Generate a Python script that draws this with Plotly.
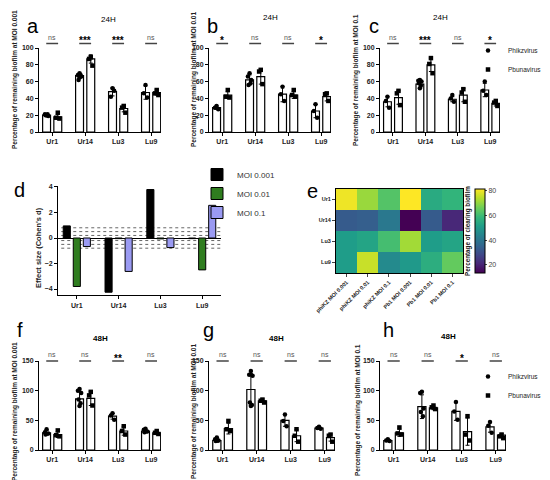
import plotly.graph_objects as go

W, H = 550, 480
FONT = 'Arial, Liberation Sans, sans-serif'

strains = ['Ur1', 'Ur14', 'Lu3', 'Lu9']
viruses = ['Phikzvirus', 'Pbunavirus']

# ---- 24H ----
# MOI 0.001 (a)
a_phi = [20, 67, 48, 47]
a_phi_sd = [1, 3, 5, 8]
a_phi_pts = [[20, 21, 19, 20, 21], [70, 68, 66, 62, 68, 65], [52, 42, 49], [56, 46, 41]]
a_pb = [18, 87, 28, 47]
a_pb_sd = [3, 5, 4, 3]
a_pb_pts = [[23, 17, 16], [89, 87, 79], [31, 29, 23], [50, 46, 44]]
a_sig = ['ns', '***', '***', 'ns']

# MOI 0.01 (b)
b_phi = [29, 62, 45, 25]
b_phi_sd = [2, 6, 9, 8]
b_phi_pts = [[31, 29, 27], [70, 66, 62, 56, 58], [54, 45, 37], [33, 25, 17]]
b_pb = [44, 66, 44, 42]
b_pb_sd = [4, 9, 4, 5]
b_pb_pts = [[50, 42, 41], [74, 72, 57], [50, 44, 42], [46, 45, 37]]
b_sig = ['*', 'ns', 'ns', '*']

# MOI 0.1 (c)
c_phi = [36, 57, 39, 50]
c_phi_sd = [6, 4, 3, 8]
c_phi_pts = [[42, 37, 29], [62, 61, 60, 58, 55, 52], [44, 40, 36], [60, 49, 44]]
c_pb = [41, 80, 44, 34]
c_pb_sd = [8, 8, 8, 3]
c_pb_pts = [[49, 46, 32], [88, 81, 70], [51, 47, 36], [37, 35, 31]]
c_sig = ['ns', '***', 'ns', '*']

# ---- 48H ----
# MOI 0.001 (f)
f_phi = [29, 86, 57, 32]
f_phi_sd = [4, 12, 5, 3]
f_phi_pts = [[35, 30, 28, 26], [103, 100, 96, 85, 79, 74], [62, 58, 51], [36, 34, 31, 30]]
f_pb = [26, 87, 32, 29]
f_pb_sd = [5, 12, 7, 3]
f_pb_pts = [[33, 25, 23], [98, 92, 75], [40, 32, 26], [32, 29, 27]]
f_sig = ['ns', 'ns', '**', 'ns']

# MOI 0.01 (g)
g_phi = [16, 102, 50, 37]
g_phi_sd = [3, 27, 10, 2]
g_phi_pts = [[21, 18, 16, 15], [133, 127, 125, 80, 76, 74], [60, 49, 40], [39, 37, 36]]
g_pb = [36, 83, 24, 21]
g_pb_sd = [9, 3, 10, 6]
g_pb_pts = [[49, 35, 32], [85, 83, 80], [35, 24, 14], [26, 24, 14]]
g_sig = ['ns', 'ns', 'ns', 'ns']

# MOI 0.1 (h)
h_phi = [16, 73, 65, 39]
h_phi_sd = [2, 20, 15, 9]
h_phi_pts = [[18, 16, 15], [98, 96, 70, 64, 57], [81, 65, 51], [47, 41, 29]]
h_pb = [29, 71, 31, 25]
h_pb_sd = [6, 3, 23, 3]
h_pb_pts = [[38, 28, 26], [75, 72, 69], [57, 26, 16], [26, 23, 20]]
h_sig = ['ns', 'ns', '*', 'ns']

# ---- effect size (d) ----
moi_names = ['MOI 0.001', 'MOI 0.01', 'MOI 0.1']
d_moi_0001 = [0.95, -4.25, 3.8, -0.05]
d_moi_001 = [-3.8, -0.05, -0.07, -2.5]
d_moi_01 = [-0.67, -2.62, -0.75, 2.56]
cohen_lines = [0.2, 0.5, 0.8]

# ---- heatmap (e) ----
heat_cols = ['phiKZ MOI 0.001', 'phiKZ MOI 0.01', 'phiKZ MOI 0.1',
             'Pb1 MOI 0.001', 'Pb1 MOI 0.01', 'Pb1 MOI 0.1']
heat_ur1 = [80, 71, 63, 82, 55, 58]
heat_ur14 = [33, 34, 41, 13, 33, 21]
heat_lu3 = [51, 53, 61, 72, 51, 53]
heat_lu9 = [51, 76, 46, 50, 56, 65]


def xd(p0, p1):
    return [p0 / W, p1 / W]


def yd(top, bottom):
    return [1 - bottom / H, 1 - top / H]


def py(p):
    return 1 - p / H


fig = go.Figure()
annos = []
shapes = []

tickfont = dict(family=FONT, size=7, color='#222', weight='bold')
JIT = [0.0, -0.05, 0.05, -0.03, 0.03, 0.0]
OFF = 0.17
BW = 0.24


def axis_names(k):
    s = '' if k == 1 else str(k)
    return 'x' + s, 'y' + s, 'xaxis' + s, 'yaxis' + s


def bar_panel(k, xpx, ypx, ymax, dtick, series, sig, sig_y, legend=None):
    xa, ya, xk, yk = axis_names(k)
    for (mean, sd, pts, symbol, name, off) in series:
        fig.add_trace(go.Bar(
            x=[i + off for i in range(len(strains))], y=mean, width=BW,
            marker=dict(color='white', line=dict(color='black', width=1.2)),
            error_y=dict(type='data', array=sd, color='black', thickness=1, width=2),
            showlegend=False, xaxis=xa, yaxis=ya, hoverinfo='skip'))
        xs, ys = [], []
        for i, grp in enumerate(pts):
            for j, v in enumerate(grp):
                xs.append(i + off + JIT[j])
                ys.append(v)
        fig.add_trace(go.Scatter(
            x=xs, y=ys, mode='markers', name=name,
            marker=dict(symbol=symbol, size=4.5, color='black'),
            showlegend=legend is not None, legend=legend or 'legend',
            xaxis=xa, yaxis=ya))
    fig.layout[xk] = dict(domain=xd(*xpx), range=[-0.4, 3.3], anchor=ya,
                          tickvals=list(range(len(strains))), ticktext=strains,
                          showline=True, linecolor='black', linewidth=1,
                          ticks='outside', ticklen=3, tickcolor='black',
                          tickfont=tickfont, showgrid=False, zeroline=False)
    fig.layout[yk] = dict(domain=yd(*ypx), range=[0, ymax], dtick=dtick, anchor=xa,
                          showline=True, linecolor='black', linewidth=1,
                          ticks='outside', ticklen=3, tickcolor='black',
                          tickfont=tickfont, showgrid=False, zeroline=False)
    for i, s in enumerate(sig):
        shapes.append(dict(type='line', xref=xa, yref='paper', x0=i - 0.18, x1=i + 0.18,
                           y0=py(sig_y), y1=py(sig_y), line=dict(color='#444', width=1.5)))
        if s == 'ns':
            annos.append(dict(x=i, y=py(sig_y - 1), xref=xa, yref='paper', text='ns',
                              showarrow=False, xanchor='center', yanchor='bottom',
                              font=dict(family=FONT, size=7, color='#555')))
        else:
            annos.append(dict(x=i, y=py(sig_y - 3), xref=xa, yref='paper', text=s,
                              showarrow=False, xanchor='center', yanchor='middle',
                              font=dict(family=FONT, size=10, color='black', weight='bold')))


def series_of(phi, phi_sd, phi_pts, pb, pb_sd, pb_pts):
    return [(phi, phi_sd, phi_pts, 'circle', viruses[0], -OFF),
            (pb, pb_sd, pb_pts, 'square', viruses[1], OFF)]


bar_panel(1, (31, 153), (40, 124), 100, 20,
          series_of(a_phi, a_phi_sd, a_phi_pts, a_pb, a_pb_sd, a_pb_pts), a_sig, 35.5)
bar_panel(2, (201, 323), (40, 124), 100, 20,
          series_of(b_phi, b_phi_sd, b_phi_pts, b_pb, b_pb_sd, b_pb_pts), b_sig, 35.5)
bar_panel(3, (372, 492), (40, 124), 100, 20,
          series_of(c_phi, c_phi_sd, c_phi_pts, c_pb, c_pb_sd, c_pb_pts), c_sig, 35.5,
          legend='legend')
bar_panel(4, (31, 153), (353, 442), 150, 50,
          series_of(f_phi, f_phi_sd, f_phi_pts, f_pb, f_pb_sd, f_pb_pts), f_sig, 353)
bar_panel(5, (201, 327), (353, 442), 150, 50,
          series_of(g_phi, g_phi_sd, g_phi_pts, g_pb, g_pb_sd, g_pb_pts), g_sig, 353)
bar_panel(6, (372, 498), (353, 442), 150, 50,
          series_of(h_phi, h_phi_sd, h_phi_pts, h_pb, h_pb_sd, h_pb_pts), h_sig, 353,
          legend='legend2')

# ---- panel d: effect size ----
d_series = [d_moi_0001, d_moi_001, d_moi_01]
d_colors = ['#000000', '#2f7d1f', '#9a9af2']
d_offs = [-0.24, 0.0, 0.24]
for vals, name, col, off in zip(d_series, moi_names, d_colors, d_offs):
    fig.add_trace(go.Bar(
        x=[i + off for i in range(len(strains))], y=vals, width=0.17, name=name,
        marker=dict(color=col, line=dict(color='black', width=1)),
        legend='legend3', xaxis='x7', yaxis='y7'))
fig.layout['xaxis7'] = dict(domain=xd(50, 213), range=[-0.45, 3.45], anchor='y7',
                            tickvals=list(range(len(strains))), ticktext=strains,
                            showline=True, linecolor='black', linewidth=1,
                            ticks='outside', ticklen=3, tickcolor='black',
                            tickfont=tickfont, showgrid=False, zeroline=False)
fig.layout['yaxis7'] = dict(domain=yd(177.7, 287.4), range=[-4.5, 4.1], anchor='x7',
                            tickvals=[-4, -2, 0, 2, 4],
                            showline=True, linecolor='black', linewidth=1,
                            ticks='outside', ticklen=3, tickcolor='black',
                            tickfont=tickfont, showgrid=False,
                            zeroline=True, zerolinecolor='black', zerolinewidth=1)
for t in cohen_lines:
    for v in (t, -t):
        shapes.append(dict(type='line', xref='x7 domain', yref='y7', x0=0.02, x1=1,
                           y0=v, y1=v, layer='below',
                           line=dict(color='#666', width=1, dash='dot')))

# ---- panel e: heatmap ----
fig.add_trace(go.Heatmap(
    z=[heat_ur1, heat_ur14, heat_lu3, heat_lu9], x=heat_cols, y=strains,
    colorscale='Viridis', zmin=13.5, zmax=81.6, xaxis='x8', yaxis='y8',
    colorbar=dict(x=467 / W, xanchor='left', y=py(223), yanchor='middle',
                  len=84 / H, lenmode='fraction', thickness=10, xpad=0, ypad=0,
                  outlinewidth=1, outlinecolor='black', tickvals=[20, 40, 60, 80],
                  ticks='outside', ticklen=2, tickfont=dict(family=FONT, size=7, color='#444'))))
hfont = dict(family=FONT, size=5.5, color='#222', weight='bold')
fig.layout['xaxis8'] = dict(domain=xd(328, 455), anchor='y8', tickangle=-45, tickfont=hfont,
                            ticks='outside', ticklen=3, showline=True, mirror=True,
                            linecolor='black', linewidth=1)
fig.layout['yaxis8'] = dict(domain=yd(181, 265), anchor='x8', autorange='reversed',
                            tickfont=hfont, ticks='outside', ticklen=3, showline=True,
                            mirror=True, linecolor='black', linewidth=1)

# ---- text ----
letters = [('a', 25, 18), ('b', 204, 18), ('c', 366, 18), ('d', 11, 182),
           ('e', 304, 183), ('f', 12, 322), ('g', 200, 322), ('h', 380, 322)]
for t, x, y in letters:
    annos.append(dict(x=x / W, y=py(y), xref='paper', yref='paper', text=t, showarrow=False,
                      xanchor='center', yanchor='middle',
                      font=dict(family=FONT, size=20, color='black')))

titles = [('24H', 100, 11, 'normal'), ('24H', 262, 9, 'normal'), ('24H', 432, 9, 'normal'),
          ('48H', 92, 330, 'bold'), ('48H', 268, 330, 'bold'), ('48H', 440, 328, 'bold')]
for t, x, y, wgt in titles:
    annos.append(dict(x=x / W, y=py(y), xref='paper', yref='paper', text=t, showarrow=False,
                      xanchor='center', yanchor='middle',
                      font=dict(family=FONT, size=8, color='black', weight=wgt)))

ytitles = [('Percentage of remaining biofilm at MOI 0.001', 7, 72),
           ('Percentage of remaining biofilm at MOI 0.01', 186, 72),
           ('Percentage of remaining biofilm at MOI 0.1', 348, 72),
           ('Percentage of remaining biofilm at MOI 0.001', 7, 404),
           ('Percentage of remaining biofilm at MOI 0.01', 186, 404),
           ('Percentage of remaining biofilm at MOI 0.1', 350, 402)]
for t, x, y in ytitles:
    annos.append(dict(x=x / W, y=py(y), xref='paper', yref='paper', text=t, showarrow=False,
                      xanchor='center', yanchor='middle', textangle=-90,
                      font=dict(family=FONT, size=6.5, color='#222', weight='bold')))
annos.append(dict(x=30 / W, y=py(240), xref='paper', yref='paper', text="Effect size (Cohen's d)",
                  showarrow=False, textangle=-90, xanchor='center', yanchor='middle',
                  font=dict(family=FONT, size=7.5, color='#222', weight='bold')))
annos.append(dict(x=460 / W, y=py(223), xref='paper', yref='paper',
                  text='Percentage of clearing biofilm', showarrow=False, textangle=-90,
                  xanchor='center', yanchor='middle',
                  font=dict(family=FONT, size=6.3, color='#222', weight='bold')))

legend_common = dict(xanchor='left', yanchor='top', bgcolor='rgba(0,0,0,0)',
                     tracegroupgap=0, borderwidth=0)
fig.update_layout(
    template='none',
    width=W, height=H, margin=dict(l=0, r=0, t=0, b=0),
    paper_bgcolor='white', plot_bgcolor='white',
    font=dict(family=FONT, color='#222'),
    barmode='overlay', showlegend=True,
    legend=dict(x=460 / W, y=py(28), font=dict(family=FONT, size=6.5, color='#222'), **legend_common),
    legend2=dict(x=460 / W, y=py(354), font=dict(family=FONT, size=6.5, color='#222'), **legend_common),
    legend3=dict(x=189 / W, y=py(152), font=dict(family=FONT, size=8, color='#333'), **legend_common),
    annotations=annos, shapes=shapes,
)

fig.write_html("out.html")
